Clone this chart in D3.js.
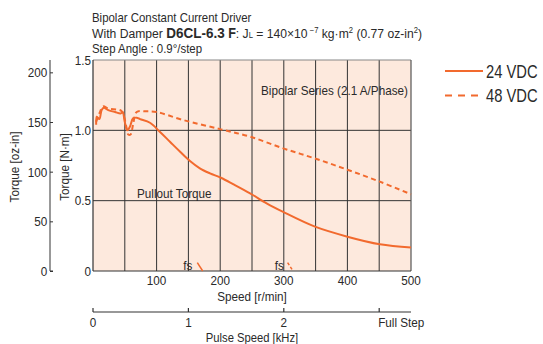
<!DOCTYPE html>
<html><head><meta charset="utf-8">
<script src="https://cdn.jsdelivr.net/npm/d3@7"></script>
<style>
body{margin:0;background:#fff;}
svg{display:block;font-family:"Liberation Sans",Arial,sans-serif;}
</style></head><body>
<svg id="c" width="543" height="344"></svg>
<script>
// ---- data ----
const speedTicks = [100, 200, 300, 400, 500];
const torqueTicksNm = [0, 0.5, 1.0, 1.5];
const torqueTickLabelsNm = ["0", "0.5", "1.0", "1.5"];
const torqueTicksOz = [0, 50, 100, 150, 200];
const pulseTicks = [0, 1, 2, 3];
const pulseTickLabels = ["0", "1", "2", "Full Step"];
const seriesNames = ["24 VDC", "48 VDC"];
const speed24 = [5, 6, 10, 13.6, 17, 24, 34.6, 43.5, 46.6, 50, 54, 58, 63, 68.6, 74, 89.6, 105, 121, 137, 152.5, 168, 184, 201, 221, 247, 273, 299, 349, 400, 451, 500];
const torque24 = [1.04, 1.097, 1.08, 1.144, 1.16, 1.144, 1.13, 1.12, 1.13, 1.06, 1.0, 1.026, 1.085, 1.09, 1.08, 1.054, 0.99, 0.919, 0.848, 0.782, 0.73, 0.694, 0.663, 0.616, 0.552, 0.481, 0.42, 0.315, 0.244, 0.19, 0.167];
const speed48 = [5, 10, 16, 24, 44, 48, 53, 55.5, 59, 63, 68.7, 84, 100, 142, 201, 247, 299, 349, 400, 451, 500];
const torque48 = [1.06, 1.12, 1.17, 1.155, 1.14, 1.11, 1.013, 0.97, 0.97, 1.04, 1.13, 1.135, 1.13, 1.073, 1.007, 0.955, 0.872, 0.80, 0.72, 0.635, 0.545];
const fsSpeed24 = [164, 172.5];
const fsTorque24 = [0.059, 0.0];
const fsSpeed48 = [306, 314];
const fsTorque48 = [0.059, 0.004];

const svg = d3.select("#c");
const orange = "#f26a2e";
const dark = "#333";
const ink = "#2a2a2a";
const SX = 0.9;
const L = 93, R = 411, T = 60, B = 271;
const x = d3.scaleLinear().domain([0, 500]).range([L, R]);
const y = d3.scaleLinear().domain([0, 1.5]).range([B, T]);
const yOz = d3.scaleLinear().domain([0, 1.5 * 141.612]).range([B, T]);
const xPulse = d3.scaleLinear().domain([0, 1]).range([x(0), x(150)]);

function txt(px, py, str, size, anchor, sx, rot) {
  const t = svg.append("text")
    .attr("transform", `translate(${px},${py})` + (rot ? ` rotate(${rot})` : "") + ` scale(${sx || SX},1)`)
    .attr("font-size", size || 13).attr("fill", ink)
    .attr("text-anchor", anchor || "start");
  if (str != null) t.text(str);
  return t;
}

// title
txt(92, 22, "Bipolar Constant Current Driver", 12.7);
const t2 = txt(92, 38, null, 13.5);
t2.append("tspan").text("With Damper ");
t2.append("tspan").attr("font-weight", "bold").attr("font-size", 15).text("D6CL-6.3");
t2.append("tspan").attr("font-weight", "bold").attr("font-size", 14).text(" F");
t2.append("tspan").text(": J");
t2.append("tspan").attr("font-size", 8.5).text("L");
t2.append("tspan").text(" = 140\u00D710");
t2.append("tspan").attr("font-size", 8.5).attr("dy", -5.5).text(" \u22127");
t2.append("tspan").attr("dy", 5.5).text(" kg\u00B7m");
t2.append("tspan").attr("font-size", 8.5).attr("dy", -5.5).text("2");
t2.append("tspan").attr("dy", 5.5).text(" (0.77 oz-in");
t2.append("tspan").attr("font-size", 8.5).attr("dy", -5.5).text("2");
t2.append("tspan").attr("dy", 5.5).text(")");
txt(92, 53, "Step Angle : 0.9\u00B0/step", 12.7);

// plot background
svg.append("rect").attr("x", L).attr("y", T).attr("width", R - L).attr("height", B - T).attr("fill", "#fde9dd");

// vertical grid every 50 r/min
const vg = d3.range(50, 500, 50);
svg.append("g").selectAll("line").data(vg).join("line")
  .attr("x1", d => x(d)).attr("x2", d => x(d)).attr("y1", T).attr("y2", B)
  .attr("stroke", dark).attr("stroke-width", 1);
// horizontal grid
svg.append("g").selectAll("line").data([0.5, 1.0]).join("line")
  .attr("x1", L).attr("x2", R).attr("y1", d => y(d)).attr("y2", d => y(d))
  .attr("stroke", dark).attr("stroke-width", 1);
// border
svg.append("line").attr("x1", L).attr("x2", R).attr("y1", T).attr("y2", T).attr("stroke", "#888").attr("stroke-width", 1.2);
svg.append("line").attr("x1", L).attr("x2", L).attr("y1", T).attr("y2", B).attr("stroke", dark).attr("stroke-width", 1.2);
svg.append("line").attr("x1", R).attr("x2", R).attr("y1", T).attr("y2", B).attr("stroke", "#555").attr("stroke-width", 1.2);
svg.append("line").attr("x1", L).attr("x2", R).attr("y1", B).attr("y2", B).attr("stroke", dark).attr("stroke-width", 1.2);

// N·m labels
torqueTicksNm.forEach((d, i) => txt(L - 2, y(d) + 4.5, torqueTickLabelsNm[i], 13, "end"));

// oz-in axis
const ozAxis = d3.axisRight(yOz).tickValues(torqueTicksOz).tickSize(3).tickFormat(d3.format("d"));
const gOz = svg.append("g").attr("transform", "translate(50,0)").call(ozAxis).attr("font-family", null);
gOz.select(".domain").attr("d", `M0,${T}V${B}H3`).attr("stroke", dark);
gOz.selectAll(".tick line").attr("stroke", dark);
gOz.selectAll(".tick text").attr("x", -3).attr("dy", "0.35em").attr("text-anchor", "end")
  .attr("font-size", 13).attr("fill", ink).attr("transform", `scale(${SX},1)`);

// speed tick labels
speedTicks.forEach(d => txt(x(d), 285, String(d), 13, "middle"));
txt(x(250), 301, "Speed [r/min]", 13, "middle");

// pulse axis
const py = 312;
svg.append("line").attr("x1", L).attr("x2", R).attr("y1", py).attr("y2", py).attr("stroke", dark).attr("stroke-width", 1.2);
svg.append("g").selectAll("line").data(pulseTicks).join("line")
  .attr("x1", d => xPulse(d)).attr("x2", d => xPulse(d)).attr("y1", py).attr("y2", py - 4).attr("stroke", dark).attr("stroke-width", 1.2);
pulseTicks.forEach((d, i) => {
  if (i === 3) txt(xPulse(d) - 1, 327, pulseTickLabels[i], 13, "start");
  else txt(xPulse(d), 327, pulseTickLabels[i], 13, "middle");
});
txt(x(250), 341.5, "Pulse Speed [kHz]", 12.5, "middle");

// y axis titles
txt(19, 167, "Torque [oz-in]", 13, "middle", SX, -90);
txt(69, 167, "Torque [N\u00B7m]", 13, "middle", SX, -90);

// annotations
txt(261, 95, "Bipolar Series (2.1 A/Phase)", 13);
txt(137, 198, "Pullout Torque", 13);
txt(x(149), 270, "fs", 13, "middle");
txt(x(293), 270, "fs", 13, "middle");

// curves
const line2 = d3.line().x(d => x(d[0])).y(d => y(d[1])).curve(d3.curveCatmullRom);
const lineS = d3.line().x(d => x(d[0])).y(d => y(d[1]));
svg.append("path").datum(speed48.map((s, i) => [s, torque48[i]])).attr("d", line2)
  .attr("fill", "none").attr("stroke", orange).attr("stroke-width", 2).attr("stroke-dasharray", "5,3.5");
svg.append("path").datum(speed24.map((s, i) => [s, torque24[i]])).attr("d", line2)
  .attr("fill", "none").attr("stroke", orange).attr("stroke-width", 2);
svg.append("path").datum(fsSpeed24.map((s, i) => [s, fsTorque24[i]])).attr("d", lineS)
  .attr("fill", "none").attr("stroke", orange).attr("stroke-width", 1.5);
svg.append("path").datum(fsSpeed48.map((s, i) => [s, fsTorque48[i]])).attr("d", lineS)
  .attr("fill", "none").attr("stroke", orange).attr("stroke-width", 1.5).attr("stroke-dasharray", "3,2");

// legend
seriesNames.forEach((n, i) => {
  const yy = 71 + i * 24.5;
  svg.append("line").attr("x1", 445).attr("x2", 483).attr("y1", yy).attr("y2", yy)
    .attr("stroke", orange).attr("stroke-width", 2).attr("stroke-dasharray", i ? "7,6" : null);
  txt(486, yy + 6.5, n, 18, "start", 0.82);
});
</script>
</body></html>
